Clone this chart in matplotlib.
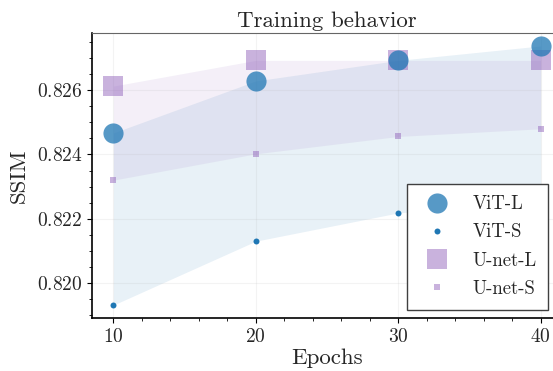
import numpy as np
import matplotlib
matplotlib.use('Agg')
import matplotlib.pyplot as plt
from matplotlib.ticker import MultipleLocator

# computer modern look
plt.rcParams['font.family'] = 'serif'
plt.rcParams['font.serif'] = ['cmr10']
plt.rcParams['mathtext.fontset'] = 'cm'
plt.rcParams['axes.formatter.use_mathtext'] = True

#ssim per epoch for each model
epochs = [10, 20, 30, 40]
vit_l = [0.82467, 0.82629, 0.82693, 0.82738]
vit_s = [0.81931, 0.82130, 0.82218, 0.82250]
unet_l = [0.82613, 0.82693, 0.82693, 0.82693]
unet_s = [0.82320, 0.82402, 0.82456, 0.82480]

blue = '#1f77b4'
purple = '#9467bd'

fig = plt.figure(figsize=(5.53, 3.71), dpi=100)
ax = fig.add_axes([0.1664, 0.1429, 0.85, 0.7682])

# shaded band between small and large model
ax.fill_between(epochs, vit_s, vit_l, color=blue, alpha=0.1, linewidth=0)
ax.fill_between(epochs, unet_s, unet_l, color=purple, alpha=0.1, linewidth=0)

ax.plot(epochs, unet_l, 's', color=purple, alpha=0.5, markersize=14.5,
        markeredgewidth=0, label='U-net-L', zorder=3)
ax.plot(epochs, unet_s, 's', color=purple, alpha=0.5, markersize=4.2,
        markeredgewidth=0, label='U-net-S', zorder=3)
ax.plot(epochs, vit_l, 'o', color=blue, alpha=0.75, markersize=14.5,
        markeredgewidth=0, label='ViT-L', zorder=4)
ax.plot(epochs, vit_s, 'o', color=blue, alpha=1.0, markersize=4.3,
        markeredgewidth=0, label='ViT-S', zorder=4)

ax.set_title('Training behavior', fontsize=16.5, pad=4, color='0.15')
ax.set_xlabel('Epochs', fontsize=16.5, labelpad=2, color='0.15')
ax.set_ylabel('SSIM', fontsize=16.5, labelpad=6, color='0.15')

ax.set_xticks(epochs)
ax.xaxis.set_minor_locator(MultipleLocator(2))
ax.yaxis.set_major_locator(MultipleLocator(0.002))
ax.yaxis.set_minor_locator(MultipleLocator(0.0005))
ax.tick_params(labelsize=14, labelcolor='0.15')
ax.grid(True, color='#b0b0b0', alpha=0.15)

for side in ['left', 'bottom']:
    ax.spines[side].set_linewidth(1.2)
ax.spines['top'].set_color('0.4')
ax.spines['right'].set_visible(False)

handles, labels = ax.get_legend_handles_labels()
order = [2, 3, 0, 1]
leg = ax.legend([handles[i] for i in order], [labels[i] for i in order],
                loc='upper right', bbox_to_anchor=(0.991, 0.505),
                bbox_transform=fig.transFigure, borderaxespad=0,
                fontsize=13.5, fancybox=False, framealpha=1,
                edgecolor='0.25', labelspacing=0.55, handletextpad=0.85,
                borderpad=0.62)
leg.get_frame().set_linewidth(1.0)
for txt in leg.get_texts():
    txt.set_color('0.15')

fig.savefig('out.png', dpi=100)
